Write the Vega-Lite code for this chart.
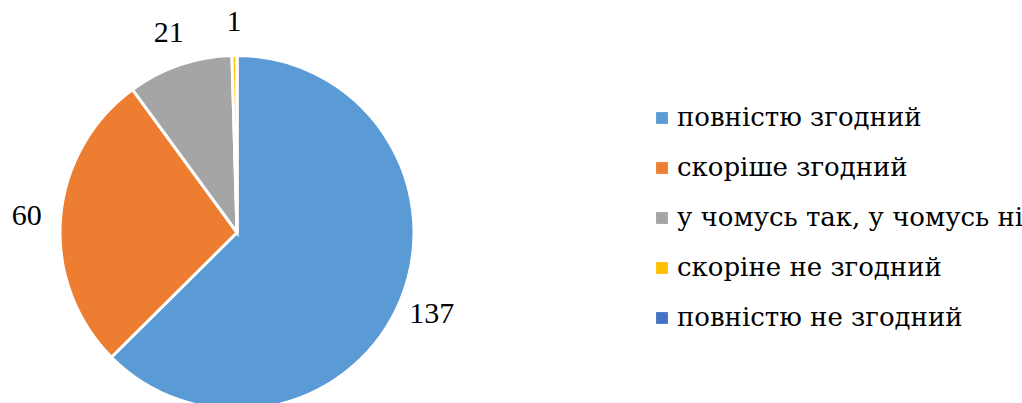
{
  "$schema": "https://vega.github.io/schema/vega-lite/v6.json",
  "width": 474,
  "height": 341,
  "autosize": {"type": "none"},
  "padding": {"top": 62, "left": 0, "right": 548, "bottom": 0},
  "background": "white",
  "config": {
    "font": "Liberation Serif",
    "legend": {"labelFont": "DejaVu Serif", "labelFontSize": 26}
  },
  "data": {
    "values": [
      {"k": 1, "answer": "повністю згодний", "count": 137},
      {"k": 2, "answer": "скоріше згодний", "count": 60},
      {"k": 3, "answer": "у чомусь так, у чомусь ні", "count": 21},
      {"k": 4, "answer": "скоріне не згодний", "count": 1},
      {"k": 5, "answer": "повністю не згодний", "count": 0}
    ]
  },
  "encoding": {
    "theta": {"field": "count", "type": "quantitative", "stack": true},
    "order": {"field": "k", "type": "quantitative"},
    "color": {
      "field": "answer",
      "type": "nominal",
      "sort": ["повністю згодний", "скоріше згодний", "у чомусь так, у чомусь ні", "скоріне не згодний", "повністю не згодний"],
      "scale": {
        "domain": ["повністю згодний", "скоріше згодний", "у чомусь так, у чомусь ні", "скоріне не згодний", "повністю не згодний"],
        "range": ["#5B9BD5", "#ED7D31", "#A5A5A5", "#FFC000", "#4472C4"]
      },
      "legend": {
        "title": null,
        "orient": "none",
        "legendX": 649,
        "legendY": 43,
        "padding": 0,
        "symbolType": "square",
        "symbolSize": 140,
        "symbolStrokeWidth": 0,
        "labelFont": "DejaVu Serif",
        "labelFontSize": 26,
        "labelColor": "black",
        "labelOffset": 2,
        "labelLimit": 400,
        "rowPadding": 24
      }
    }
  },
  "layer": [
    {
      "mark": {"type": "arc", "outerRadius": 177, "stroke": "white", "strokeWidth": 3}
    },
    {
      "transform": [{"filter": "datum.count > 0"}],
      "mark": {"type": "text", "radius": 211, "font": "Liberation Serif", "fontSize": 30, "align": "center", "baseline": "middle"},
      "encoding": {
        "text": {"field": "count", "type": "quantitative"},
        "color": {"value": "black"}
      }
    }
  ]
}
